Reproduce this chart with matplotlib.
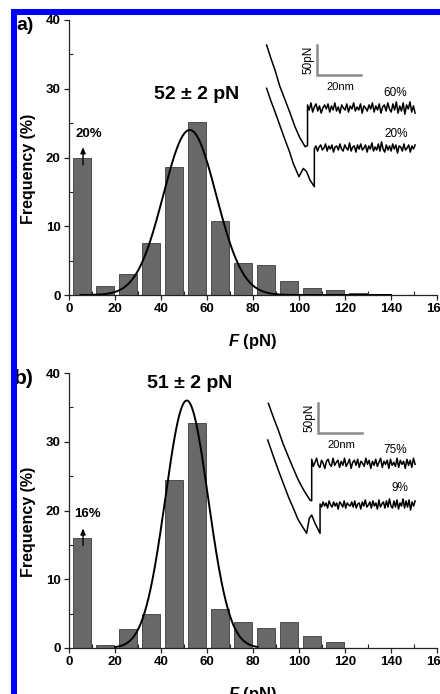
import numpy as np
import matplotlib
matplotlib.use("Agg")
import matplotlib.pyplot as plt
from matplotlib.patches import Rectangle

plt.rcParams['font.family'] = ['Liberation Sans', 'DejaVu Sans']
plt.rcParams['mathtext.fontset'] = 'custom'
plt.rcParams['mathtext.it'] = 'Liberation Sans:bold:italic'
plt.rcParams['mathtext.rm'] = 'Liberation Sans:bold'

# ---------------- data ----------------
bin_left_a = np.arange(0, 150, 10)
freq_a = [20.0, 1.3, 3.0, 7.6, 18.6, 25.2, 10.8, 4.6, 4.3, 2.1, 1.0, 0.7, 0.3, 0.15, 0.05]
bin_left_b = np.arange(0, 120, 10)
freq_b = [16.0, 0.4, 2.7, 4.9, 24.4, 32.8, 5.7, 3.85, 2.9, 3.85, 1.75, 0.9]

# Gaussian fit parameters (center, sigma, amplitude) and drawn range
fit_a = dict(mu=52.5, sigma=11.5, amp=24.0, x0=5, x1=140)
fit_b = dict(mu=51.2, sigma=9.3, amp=36.0, x0=20, x1=82)

peak_label_a = "52 ± 2 pN"
peak_label_b = "51 ± 2 pN"
zero_label_a = "20%"
zero_label_b = "16%"

x_ticks = [0, 20, 40, 60, 80, 100, 120, 140, 160]
y_ticks = [0, 10, 20, 30, 40]

# inset force traces: approach part (nm, pN), jump level, noise on plateau (pN)
tr_a1_x = [3.0, 5.0, 6.8, 9.0, 11.4, 13.5, 15.9, 18.0, 20.5, 21.6]
tr_a1_y = [91.7, 69, 50, 23, 0, -20, -44.5, -62, -77.8, -76]
tr_a1_level, tr_a1_end = -13.3, 70.5
tr_a2_x = [3.0, 5.0, 6.8, 9.0, 11.4, 13.3, 15.1, 17.7, 19.7, 21.2, 22.7, 24.7]
tr_a2_y = [19.5, -2, -19.5, -42, -66.7, -85, -105.5, -127.8, -114, -119.5, -133.3, -144.5]
tr_a2_level, tr_a2_end = -80, 70.5
tr_b1_x = [3.8, 6.0, 8.3, 10.5, 12.9, 15.0, 17.4, 20.0, 22.7, 23.5]
tr_b1_y = [94.5, 72, 50, 27, 5.5, -13, -33.3, -51, -66.7, -68]
tr_b1_level, tr_b1_end = -5.5, 70.5
tr_b2_x = [3.5, 6.0, 8.3, 10.5, 12.9, 15.0, 17.4, 21.2, 22.4, 23.5, 25.0, 27.3]
tr_b2_y = [33.3, 7, -16.7, -38, -61.2, -79, -100, -122.2, -97.2, -91.7, -105.5, -122.2]
tr_b2_level, tr_b2_end = -75, 70.5

noise_a1 = [3,-2,5,-4,1,4,-3,2,-5,0,3,-1,4,-4,2,-2,5,-3,1,-5,3,0,-2,4,-4,2,-1,5,-3,1,-2,4,-5,2,0,-3,3,-1,5,-4,2,-2,4,-5,1,3,-3,5,-1,-4,4,-2,6,-5,2,-3,5,-6,3,-1,6,-4,2,-5]
noise_a2 = [-1,2,-3,1,3,-2,0,4,-3,2,-1,3,-4,1,2,-2,4,-1,-3,3,0,-2,5,-3,1,2,-4,3,-1,4,-2,0,3,-4,2,-1,5,-3,1,-2,4,-3,6,-1,-4,3,-2,2,-3,4,-1,3,-5,2,1,-3,4,-2,0,3,-4,2,-1,3]
noise_b1 = [4,-3,1,5,-2,-4,3,0,-5,2,4,-1,-3,5,-2,1,3,-4,2,-2,5,-3,0,4,-5,1,3,-2,4,-4,2,0,-3,5,-1,3,-5,2,-2,4,-3,1,5,-4,2,-1,3,-5,4,-2,1,-3,5,-4,3,-1,2,-5,4,-2,3,-4,5,-1]
noise_b2 = [1,-2,3,-1,2,-3,4,0,-2,3,-1,2,-4,3,1,-2,4,-3,2,0,-1,3,-2,4,-3,1,2,-4,3,-1,5,-2,0,3,-3,4,-1,2,-4,5,-2,1,3,-3,4,-2,6,-1,-3,4,-2,5,-4,2,-1,6,-3,4,-2,5,-5,3,-1,4]
noise_scale = 1.7  # pN per noise unit

pct_a = ["60%", "20%"]
pct_b = ["75%", "9%"]

# ---------------- figure ----------------
W, H = 440, 694
fig = plt.figure(figsize=(W / 100, H / 100), dpi=100)

BAR_FACE = '#686868'
BAR_EDGE = '#3c3c3c'


def hist_panel(ax, left, freq, fit, peak_label, zero_label, peak_xy, zero_xy, arrow_y):
    ax.bar(np.asarray(left) + 5.6, freq, width=8.0, color=BAR_FACE,
           edgecolor=BAR_EDGE, linewidth=0.6, zorder=2)
    xs = np.linspace(fit['x0'], fit['x1'], 400)
    ys = fit['amp'] * np.exp(-(xs - fit['mu']) ** 2 / (2 * fit['sigma'] ** 2))
    ax.plot(xs, ys, color='black', lw=1.4, zorder=3)
    ax.set_xlim(0, 160)
    ax.set_ylim(0, 40)
    ax.set_xticks(x_ticks)
    ax.set_yticks(y_ticks)
    ax.set_xticks(np.arange(10, 160, 20), minor=True)
    ax.set_yticks(np.arange(5, 40, 10), minor=True)
    for s in ['top', 'right']:
        ax.spines[s].set_visible(False)
    for s in ['left', 'bottom']:
        ax.spines[s].set_linewidth(0.9)
        ax.spines[s].set_color('#222222')
    ax.tick_params(which='major', direction='out', length=3.5, width=0.9,
                   labelsize=9.5, pad=2.5, color='#222222')
    ax.tick_params(which='minor', direction='in', length=3, width=0.8, color='#222222')
    for lab in ax.get_xticklabels() + ax.get_yticklabels():
        lab.set_fontweight('bold')
    ax.text(-0.111, 0.46, 'Frequency (%)', transform=ax.transAxes, rotation=90,
            fontsize=11.5, fontweight='bold', ha='center', va='center')
    ax.set_xlabel(r'$F$ (pN)', fontsize=12, fontweight='bold')
    ax.xaxis.set_label_coords(0.5, -0.135)
    ax.text(peak_xy[0], peak_xy[1], peak_label, fontsize=14, fontweight='bold',
            ha='center', va='center')
    ax.text(zero_xy[0], zero_xy[1], zero_label, fontsize=9.5, fontweight='bold',
            ha='center', va='center')
    ax.annotate('', xy=(6.1, arrow_y[1]), xytext=(6.1, arrow_y[0]),
                arrowprops=dict(arrowstyle='-|>,head_length=0.35,head_width=0.15',
                                color='black', lw=1.0))


axa = fig.add_axes([69 / W, (H - 295) / H, 368 / W, 275 / H])
hist_panel(axa, bin_left_a, freq_a, fit_a, peak_label_a, zero_label_a,
           (55.7, 29.2), (8.6, 23.4), (18.5, 21.9))
axb = fig.add_axes([69 / W, (H - 648) / H, 368 / W, 275 / H])
hist_panel(axb, bin_left_b, freq_b, fit_b, peak_label_b, zero_label_b,
           (52.6, 38.5), (8.2, 19.5), (14.5, 17.8))


def inset(top_px, t1x, t1y, lvl1, end1, n1, t2x, t2y, lvl2, end2, n2, pcts,
          bar_x, bar_top, pct_pos):
    ia = fig.add_axes([260 / W, (H - top_px - 155) / H, 165 / W, 155 / H])
    ia.set_xlim(0, 75)
    ia.set_ylim(-158.3, 100)
    ia.axis('off')
    for tx, ty, lvl, end, nz in [(t1x, t1y, lvl1, end1, n1), (t2x, t2y, lvl2, end2, n2)]:
        px = np.linspace(tx[-1], end, len(nz))
        xs = list(tx) + list(px)
        ys = list(ty) + [lvl + noise_scale * v for v in nz]
        ia.plot(xs, ys, color='black', lw=1.1)
    # scale bar
    ia.plot([bar_x, bar_x, bar_x + 20], [bar_top, bar_top - 50, bar_top - 50],
            color='#8a8a8a', lw=1.8, solid_joinstyle='miter')
    ia.text(bar_x - 3.8, bar_top - 25, '50pN', rotation=90, fontsize=8.5,
            ha='center', va='center')
    ia.text(bar_x + 10.4, bar_top - 70, '20nm', fontsize=8, ha='center', va='center')
    ia.text(pct_pos[0][0], pct_pos[0][1], pcts[0], fontsize=8.5, ha='center', va='center')
    ia.text(pct_pos[1][0], pct_pos[1][1], pcts[1], fontsize=8.5, ha='center', va='center')
    return ia


inset(40, tr_a1_x, tr_a1_y, tr_a1_level, tr_a1_end, noise_a1,
      tr_a2_x, tr_a2_y, tr_a2_level, tr_a2_end, noise_a2, pct_a,
      26.0, 91.7, [(61.4, 11.7), (62.1, -56.7)])
inset(400, tr_b1_x, tr_b1_y, tr_b1_level, tr_b1_end, noise_b1,
      tr_b2_x, tr_b2_y, tr_b2_level, tr_b2_end, noise_b2, pct_b,
      26.5, 95.0, [(61.4, 16.7), (63.6, -46.7)])

# panel letters
fig.text(16 / W, 1 - 25 / H, 'a)', fontsize=14, fontweight='bold', ha='left', va='center')
fig.text(14 / W, 1 - 378 / H, 'b)', fontsize=15, fontweight='bold', ha='left', va='center')

# blue frame
fig.add_artist(Rectangle((11 / W, 0), 6 / W, (H - 9) / H, transform=fig.transFigure,
                         facecolor='#0000ff', edgecolor='none', zorder=20))
fig.add_artist(Rectangle((11 / W, (H - 15) / H), (W - 11) / W, 6 / H,
                         transform=fig.transFigure, facecolor='#0000ff',
                         edgecolor='none', zorder=20))

fig.savefig('out.png', dpi=100)
